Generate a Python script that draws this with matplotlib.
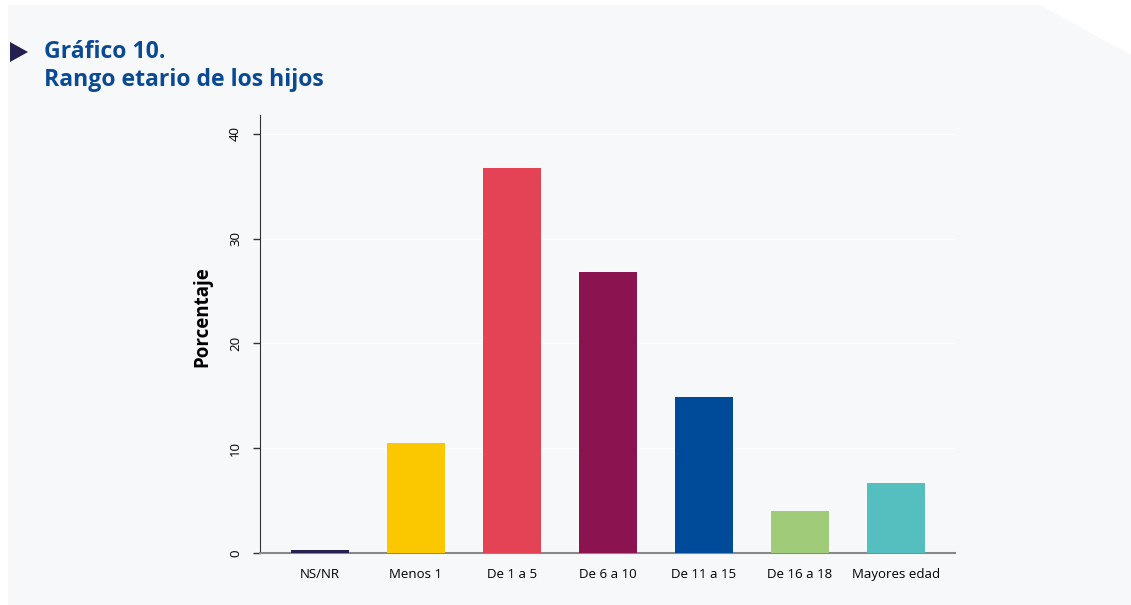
import matplotlib
matplotlib.use("Agg")
import matplotlib.pyplot as plt
from matplotlib.patches import Polygon

plt.rcParams['font.family'] = ['Open Sans', 'DejaVu Sans']

# porcentaje de hijos por rango de edad
categorias = ['NS/NR', 'Menos 1', 'De 1 a 5', 'De 6 a 10',
              'De 11 a 15', 'De 16 a 18', 'Mayores edad']
porcentajes = [0.3, 10.5, 36.7, 26.8, 14.9, 4.0, 6.7]
colores = ['#27214f', '#fbc800', '#e34355', '#8b1350',
           '#004b99', '#a0cc7a', '#55bfbf']
yticks = [0, 10, 20, 30, 40]

fig = plt.figure(figsize=(11.31, 6.05), dpi=100)
fig.patch.set_facecolor('white')

# panel de fondo con la esquina recortada
W, H = 1131, 605
panel = Polygon([(8/W, 0), (1, 0), (1, 1 - 55/H), (1040/W, 1 - 5/H), (8/W, 1 - 5/H)],
                closed=True, transform=fig.transFigure,
                facecolor='#f7f8fa', edgecolor='none', zorder=-5)
fig.patches.append(panel)

# titulo
fig.patches.append(Polygon([(10/W, 1 - 42/H), (10/W, 1 - 62/H), (28/W, 1 - 52/H)],
                           closed=True, transform=fig.transFigure,
                           facecolor='#24204f', edgecolor='none', zorder=-4))
fig.text(44/W, 1 - 52/H, 'Gráfico 10.', color='#0a4a94', fontsize=16.6,
         fontweight='bold', va='center', ha='left')
fig.text(44/W, 1 - 80/H, 'Rango etario de los hijos', color='#0a4a94', fontsize=16.6,
         fontweight='bold', va='center', ha='left')

ax = fig.add_axes([260/W, 1 - 553/H, (955 - 260)/W, (553 - 115)/H], zorder=2)
ax.set_facecolor('#f7f8fa')

x = range(len(categorias))
ax.bar(x, porcentajes, width=0.6, color=colores, zorder=3)

ax.set_xlim(-0.625, 6.615)
ax.set_ylim(0, 41.8)
ax.set_yticks(yticks)
ax.set_yticklabels([str(v) for v in yticks], rotation=90, va='center', fontsize=9.5)
ax.set_xticks(list(x))
ax.set_xticklabels(categorias, fontsize=9.5)
ax.tick_params(axis='x', length=0, pad=11)
ax.tick_params(axis='y', length=5, width=1, color='#333333', pad=8)

ax.yaxis.grid(True, color='white', linewidth=1, zorder=0)
ax.set_axisbelow(True)
ax.set_ylabel('Porcentaje', fontsize=13.5, fontweight='bold')
ax.yaxis.set_label_coords(-0.068, 0.539)

for s in ['top', 'right']:
    ax.spines[s].set_visible(False)
ax.spines['left'].set_color('#333333')
ax.spines['bottom'].set_color('#888888')
ax.spines['bottom'].set_linewidth(1.5)

fig.savefig('out.png', dpi=100)
